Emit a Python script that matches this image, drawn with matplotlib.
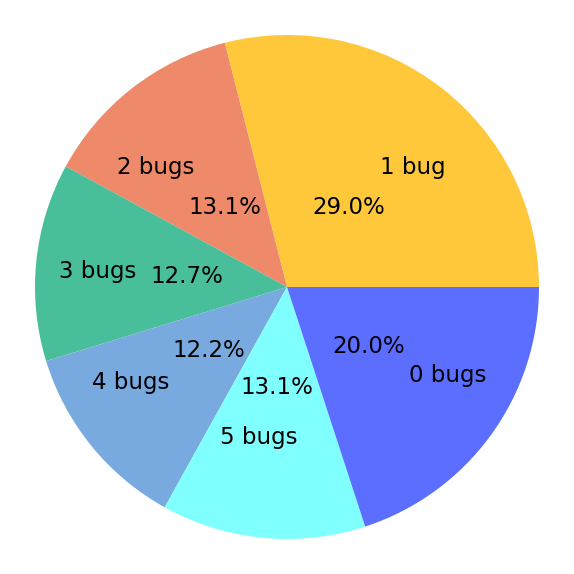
import matplotlib
matplotlib.use("Agg")
import matplotlib.pyplot as plt
from matplotlib.transforms import offset_copy

labels = ['1 bug', '2 bugs', '3 bugs', '4 bugs', '5 bugs', '0 bugs']
shares = [29.0, 13.1, 12.7, 12.2, 13.1, 20.0]
colors = ['#FFC83A', '#EE8A6A', '#48BE9A', '#78AADF', '#80FFFF', '#5B6EFF']

fig = plt.figure(figsize=(5.74, 5.74), dpi=100)
ax = fig.add_axes([0, 0, 1, 1])
wedges, texts, pcts = ax.pie(shares, labels=labels, colors=colors, autopct='%1.1f%%',
                             startangle=0, labeldistance=0.6, pctdistance=0.4,
                             textprops={'fontsize': 16.5})
# the near-vertical label sits a bit to the left of centre in the reference
texts[4].set_horizontalalignment('center')
texts[4].set_transform(offset_copy(ax.transData, fig, x=-14, y=0, units='dots'))
lim = 574 / 504
ax.set_xlim(-lim, lim)
ax.set_ylim(-lim, lim)
ax.set_aspect('equal')
ax.axis('off')

plt.savefig('out.png', dpi=100)
